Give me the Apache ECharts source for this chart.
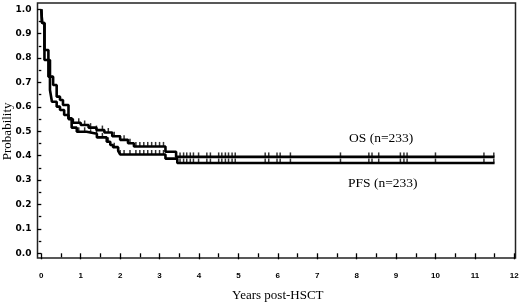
<!DOCTYPE html>
<html>
<head>
<meta charset="utf-8">
<script src="https://cdn.jsdelivr.net/npm/echarts@6/dist/echarts.min.js"></script>
<style>
  html, body { margin: 0; padding: 0; background: #fff; }
  #km { width: 520px; height: 306px; }
</style>
</head>
<body>
<div id="km"></div>
<script>
// Kaplan-Meier steps (time in years, survival probability)
const osTimes = [0, 0.02, 0.08, 0.18, 0.30, 0.39, 0.475, 0.55, 0.69, 0.80, 1.0, 1.2, 1.4, 1.6, 1.8, 2.0, 2.2, 2.35, 3.15, 3.42, 11.5];
const osValues = [1.0, 0.944, 0.833, 0.724, 0.69, 0.642, 0.628, 0.608, 0.55, 0.535, 0.526, 0.515, 0.505, 0.495, 0.48, 0.465, 0.451, 0.438, 0.416, 0.395, 0.395];

const pfsTimes = [0, 0.02, 0.08, 0.22, 0.27, 0.39, 0.475, 0.58, 0.69, 0.77, 0.9, 1.15, 1.41, 1.66, 1.75, 1.82, 1.95, 2.0, 3.15, 3.45, 11.5];
const pfsValues = [1.0, 0.944, 0.792, 0.669, 0.621, 0.601, 0.587, 0.567, 0.553, 0.515, 0.498, 0.49, 0.475, 0.457, 0.444, 0.435, 0.42, 0.405, 0.388, 0.37, 0.37];

// censored observations (tick marks on the curves)
const censorTimes = [0.95, 1.1, 1.25, 1.4, 1.55, 1.7, 1.85, 2.0, 2.1, 2.25, 2.4, 2.5, 2.6, 2.7, 2.8, 2.9, 3.0, 3.1,
  3.52, 3.61, 3.69, 3.78, 3.86, 3.99, 4.2, 4.29, 4.5, 4.58, 4.67, 4.75, 4.84, 4.92, 5.68, 5.77, 5.98, 6.06, 6.32,
  7.59, 8.31, 8.39, 8.56, 9.11, 9.2, 9.28, 10.0, 11.23, 11.48];

const xTicks = [0, 1, 2, 3, 4, 5, 6, 7, 8, 9, 10, 11, 12];
const yTickLabels = ['0.0', '0.1', '0.2', '0.3', '0.4', '0.5', '0.6', '0.7', '0.8', '0.9', '1.0'];

const curveLabels = ['OS (n=233)', 'PFS (n=233)'];

function stepAt(times, values, t) {
  let v = values[0];
  for (let i = 0; i < times.length; i++) {
    if (times[i] <= t) v = values[i];
  }
  return v;
}

const osLine = osTimes.map((t, i) => [t, osValues[i]]);
const pfsLine = pfsTimes.map((t, i) => [t, pfsValues[i]]);
const osCens = censorTimes.map(t => [t, stepAt(osTimes, osValues, t)]);
const pfsCens = censorTimes.map(t => [t, stepAt(pfsTimes, pfsValues, t)]);

const chart = echarts.init(document.getElementById('km'), null, { renderer: 'canvas' });

const lineStyle = { color: '#000', width: 2.6 };
const censStyle = {
  type: 'scatter',
  symbol: 'rect',
  symbolSize: [1.5, 4],
  symbolOffset: [0, -2.5],
  itemStyle: { color: '#000' },
  silent: true,
  clip: false,
  z: 3
};

const option = {
  animation: false,
  backgroundColor: '#fff',
  grid: [
    // data area, 0..12 years, 0..1
    { left: 41.3, top: 9.3, width: 473, height: 244, outerBoundsMode: 'none', containLabel: false },
    // outer frame
    { left: 37.5, top: 3, width: 478, height: 255, show: true, borderColor: '#222', borderWidth: 1.5,
      backgroundColor: 'transparent', outerBoundsMode: 'none', containLabel: false }
  ],
  xAxis: [
    {
      gridIndex: 0,
      type: 'value',
      min: 0,
      max: 12,
      interval: 1,
      offset: 4.7,
      name: 'Years post-HSCT',
      nameLocation: 'middle',
      nameGap: 31,
      nameMoveOverlap: false,
      nameTextStyle: { fontFamily: 'Liberation Serif', fontSize: 13, color: '#000' },
      axisLine: { show: false },
      axisTick: { show: true, length: 6, lineStyle: { color: '#000', width: 1.3 } },
      minorTick: { show: true, splitNumber: 2, length: 4, lineStyle: { color: '#000', width: 1.3 } },
      splitLine: { show: false },
      axisLabel: {
        margin: 14,
        fontFamily: 'Liberation Sans',
        fontWeight: 'bold',
        fontSize: 8,
        color: '#000',
        formatter: v => xTicks.indexOf(v) >= 0 ? String(v) : ''
      }
    },
    { gridIndex: 1, type: 'value', min: 0, max: 1, show: false }
  ],
  yAxis: [
    {
      gridIndex: 0,
      type: 'value',
      min: 0,
      max: 1,
      interval: 0.1,
      offset: 3.8,
      name: 'Probability',
      nameLocation: 'middle',
      nameGap: 23,
      nameMoveOverlap: false,
      nameTextStyle: { fontFamily: 'Liberation Serif', fontSize: 13, color: '#000' },
      axisLine: { show: false },
      axisTick: { show: true, length: 4, lineStyle: { color: '#000', width: 1.3 } },
      minorTick: { show: true, splitNumber: 2, length: 2.5, lineStyle: { color: '#000', width: 1.3 } },
      splitLine: { show: false },
      axisLabel: {
        margin: 6,
        fontFamily: 'DejaVu Sans',
        fontWeight: 'bold',
        fontSize: 9,
        color: '#000',
        formatter: v => yTickLabels[Math.round(v * 10)]
      }
    },
    { gridIndex: 1, type: 'value', min: 0, max: 1, show: false }
  ],
  series: [
    {
      name: 'OS', type: 'line', step: 'end', data: osLine,
      xAxisIndex: 0, yAxisIndex: 0,
      showSymbol: false, lineStyle: lineStyle, clip: false, silent: true, z: 2
    },
    {
      name: 'PFS', type: 'line', step: 'end', data: pfsLine,
      xAxisIndex: 0, yAxisIndex: 0,
      showSymbol: false, lineStyle: lineStyle, clip: false, silent: true, z: 2
    },
    Object.assign({ name: 'OS censored', data: osCens, xAxisIndex: 0, yAxisIndex: 0 }, censStyle),
    Object.assign({ name: 'PFS censored', data: pfsCens, xAxisIndex: 0, yAxisIndex: 0 }, censStyle)
  ],
  graphic: [
    {
      type: 'text', x: 349, y: 138,
      style: { text: curveLabels[0], font: '13.5px "Liberation Serif"', fill: '#000', textVerticalAlign: 'middle' }
    },
    {
      type: 'text', x: 348, y: 183,
      style: { text: curveLabels[1], font: '13.5px "Liberation Serif"', fill: '#000', textVerticalAlign: 'middle' }
    }
  ]
};

chart.setOption(option);
</script>
</body>
</html>
